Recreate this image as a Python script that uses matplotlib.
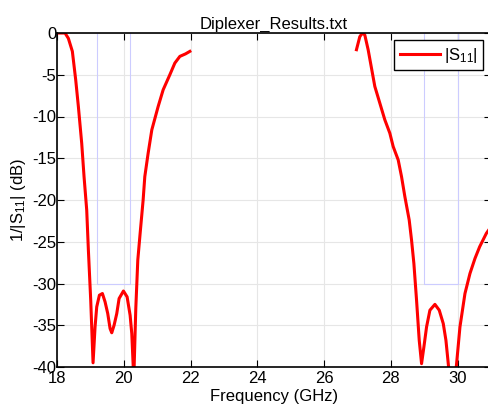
import matplotlib
matplotlib.use("Agg")
import matplotlib.pyplot as plt

plt.rcParams['font.family'] = ['Liberation Sans', 'DejaVu Sans']
plt.rcParams['axes.unicode_minus'] = False
plt.rcParams['mathtext.fontset'] = 'custom'
plt.rcParams['mathtext.rm'] = 'Liberation Sans'
plt.rcParams['mathtext.it'] = 'Liberation Sans'

# left band (Rx) response
f_low = [18.0, 18.04, 18.24, 18.34, 18.46, 18.56, 18.64, 18.74, 18.81, 18.89, 18.94, 19.01,
         19.08, 19.14, 19.19, 19.27, 19.36, 19.44, 19.52, 19.59, 19.64, 19.71, 19.79, 19.86,
         19.99, 20.1, 20.19, 20.24, 20.3, 20.36, 20.42, 20.49, 20.58, 20.63, 20.73, 20.84,
         21.03, 21.18, 21.38, 21.53, 21.68, 21.85, 21.98]
s_low = [0.0, 0.0, 0.0, -0.64, -2.2, -5.6, -8.8, -13.2, -17.2, -21.2, -26.0, -32.0,
         -39.5, -35.2, -32.8, -31.4, -31.2, -32.2, -33.6, -35.4, -35.9, -35.0, -33.6, -31.8,
         -30.9, -31.6, -33.8, -36.0, -41.5, -33.0, -27.2, -24.0, -20.0, -17.2, -14.4, -11.6,
         -8.8, -6.8, -5.0, -3.6, -2.8, -2.5, -2.2]

# right band (Tx) response
f_high = [26.97, 27.07, 27.15, 27.22, 27.32, 27.42, 27.52, 27.67, 27.82, 27.97, 28.07, 28.22,
          28.32, 28.42, 28.55, 28.62, 28.69, 28.77, 28.85, 28.92, 28.99, 29.07, 29.17, 29.32,
          29.45, 29.57, 29.65, 29.72, 29.85, 29.96, 30.07, 30.22, 30.37, 30.52, 30.66, 30.86, 31.0]
s_high = [-2.0, -0.44, 0.0, -0.24, -2.0, -4.2, -6.4, -8.4, -10.4, -12.0, -13.6, -15.2,
          -17.2, -19.6, -22.4, -24.8, -27.6, -32.0, -36.8, -39.6, -37.6, -35.2, -33.2, -32.5,
          -33.2, -34.8, -36.8, -39.6, -45.0, -40.0, -35.2, -31.2, -28.8, -27.0, -25.6, -24.0, -23.2]

# masks: (start GHz, stop GHz, level dB)
masks = [(19.2, 20.2, -30), (29.0, 30.0, -30)]

fig = plt.figure(figsize=(4.88, 4.07), dpi=100)
ax = fig.add_axes([57 / 488, 1 - 367 / 407, 434 / 488, 334 / 407])

ax.grid(True, color='#e6e6e6', linewidth=0.8)
ax.set_axisbelow(True)

for a, b, lev in masks:
    ax.plot([a, a, b, b], [0, lev, lev, 0], color='#ccccff', linewidth=0.8)

ax.plot(f_low, s_low, color='red', linewidth=2.2, label='|S$_{11}$|')
ax.plot(f_high, s_high, color='red', linewidth=2.2)

ax.set_xlim(18, 31)
ax.set_ylim(-40, 0)
ax.set_xticks([18, 20, 22, 24, 26, 28, 30])
ax.set_yticks(range(-40, 1, 5))
ax.tick_params(direction='in', top=True, right=True, labelsize=12, length=5)
ax.tick_params(axis='x', pad=3)
ax.tick_params(axis='y', pad=0.5)
for s in ax.spines.values():
    s.set_linewidth(1.2)

ax.set_title('Diplexer_Results.txt', fontsize=12, pad=3)
ax.set_xlabel('Frequency (GHz)', fontsize=12, labelpad=2)
ax.set_ylabel('1/|S$_{11}$| (dB)', fontsize=12, labelpad=3)

leg = ax.legend(loc='upper right', bbox_to_anchor=(0.99, 0.99), fontsize=12,
                fancybox=False, edgecolor='black', framealpha=1, borderpad=0.35,
                handlelength=2.4, handletextpad=0.2, borderaxespad=0.2)
leg.get_frame().set_linewidth(1.0)

fig.savefig('out.png', dpi=100)
